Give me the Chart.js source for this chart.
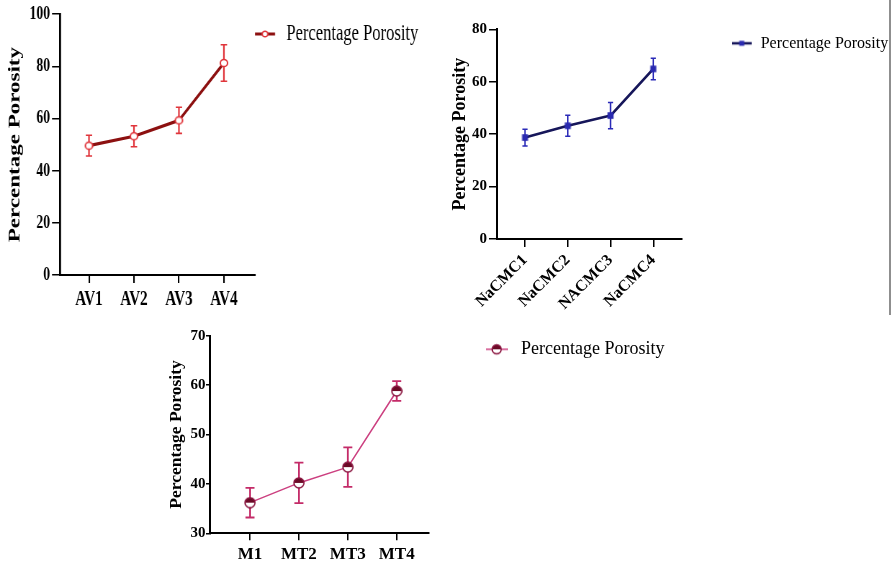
<!DOCTYPE html>
<html lang="en">
  <head>
    <meta charset="UTF-8" />
    <title>Percentage Porosity</title>
    <style>
      body { margin: 0; background: #fff; width: 895px; height: 564px; overflow: hidden; }
      canvas { position: absolute; transform-origin: 0 0; }
      #edge { position: absolute; left: 889px; top: 0; width: 2px; height: 315px; background: #8f8f8f; }
    </style>
  </head>
  <body>
    <canvas id="av"></canvas>
    <canvas id="na"></canvas>
    <canvas id="mt"></canvas>
    <div id="edge"></div>
    <script src="https://cdn.jsdelivr.net/npm/chart.js"></script>
    <script>
      const avLabels = ["AV1", "AV2", "AV3", "AV4"];
      const avValues = [49.6, 53.2, 59.3, 81.3];
      const avErrors = [4.0, 4.0, 5.0, 7.0];
      const avYTicks = [0, 20, 40, 60, 80, 100];

      const naLabels = ["NaCMC1", "NaCMC2", "NACMC3", "NaCMC4"];
      const naValues = [38.7, 43.2, 47.1, 64.9];
      const naErrors = [3.2, 4.0, 5.0, 4.1];
      const naYTicks = [0, 20, 40, 60, 80];

      const mtLabels = ["M1", "MT2", "MT3", "MT4"];
      const mtValues = [36.2, 40.2, 43.4, 58.8];
      const mtErrors = [3.0, 4.1, 4.0, 2.0];
      const mtYTicks = [30, 40, 50, 60, 70];

      const seriesName = "Percentage Porosity";
      const serif = '"Liberation Serif", "Times New Roman", serif';

      // the AV panel is squeezed sideways like in the picture
      const avSqueeze = 0.72;

      // small canvas drawn in screen units, stretched so it comes out right after the squeeze
      function icon(w, h, sx, draw) {
        const cv = document.createElement("canvas");
        cv.width = Math.round(w / sx);
        cv.height = h;
        const g = cv.getContext("2d");
        g.scale(cv.width / w, 1);
        draw(g);
        return cv;
      }

      function openCircle(g, x, y, r) {
        g.beginPath();
        g.arc(x, y, r, 0, Math.PI * 2);
        g.fillStyle = "#fff";
        g.fill();
        g.lineWidth = 1.5;
        g.strokeStyle = "#e0353b";
        g.stroke();
      }

      function halfCircle(g, x, y, r) {
        g.beginPath();
        g.arc(x, y, r, 0, Math.PI * 2);
        g.fillStyle = "#fff";
        g.fill();
        g.beginPath();
        g.arc(x, y, r, Math.PI, Math.PI * 2);
        g.closePath();
        g.fillStyle = "#6b0a26";
        g.fill();
        g.beginPath();
        g.arc(x, y, r, 0, Math.PI * 2);
        g.lineWidth = 1.4;
        g.strokeStyle = "#8a1640";
        g.stroke();
      }

      function keyLine(g, len, y, color, width) {
        g.beginPath();
        g.moveTo(0, y);
        g.lineTo(len, y);
        g.lineWidth = width;
        g.strokeStyle = color;
        g.stroke();
      }

      const avDot = icon(10, 10, avSqueeze, (g) => openCircle(g, 5, 5, 3.6));
      const naDot = icon(9, 9, 1, (g) => {
        g.fillStyle = "#2a2ab0";
        g.fillRect(1.5, 1.2, 6, 6.6);
      });
      const mtDot = icon(12, 12, 1, (g) => halfCircle(g, 6, 6, 5));

      const avKey = icon(23, 12, avSqueeze, (g) => {
        keyLine(g, 20, 6, "#8c1010", 3);
        openCircle(g, 10, 6, 2.8);
      });
      const naKey = icon(21, 12, 1, (g) => {
        keyLine(g, 20, 6, "#16165a", 2.5);
        g.fillStyle = "#2a2ab0";
        g.fillRect(7.5, 3.5, 5, 5);
      });
      const mtKey = icon(26, 14, 1, (g) => {
        keyLine(g, 22, 7, "#cc4080", 1.5);
        halfCircle(g, 10.7, 7, 4.5);
      });

      const errorBars = {
        id: "errorBars",
        beforeDatasetsDraw(chart, args, o) {
          const { ctx, scales: { x, y } } = chart;
          ctx.save();
          ctx.strokeStyle = o.color;
          chart.data.datasets[0].data.forEach((p, i) => {
            const px = x.getPixelForValue(p.x);
            const hi = y.getPixelForValue(p.y + o.errors[i]);
            const lo = y.getPixelForValue(p.y - o.errors[i]);
            ctx.lineWidth = o.width * o.k;
            ctx.beginPath();
            ctx.moveTo(px, hi);
            ctx.lineTo(px, lo);
            ctx.stroke();
            ctx.lineWidth = o.width;
            ctx.beginPath();
            ctx.moveTo(px - o.cap * o.k, hi);
            ctx.lineTo(px + o.cap * o.k, hi);
            ctx.moveTo(px - o.cap * o.k, lo);
            ctx.lineTo(px + o.cap * o.k, lo);
            ctx.stroke();
          });
          ctx.restore();
        },
      };

      const yTitle = {
        id: "yTitle",
        afterDraw(chart, args, o) {
          const { ctx, chartArea } = chart;
          ctx.save();
          ctx.translate(chartArea.left - o.offset, (chartArea.top + chartArea.bottom) / 2);
          ctx.rotate(-Math.PI / 2);
          ctx.font = `bold ${o.size}px ${serif}`;
          ctx.fillStyle = "#000";
          ctx.textAlign = "center";
          ctx.textBaseline = "middle";
          ctx.fillText(seriesName, 0, 0);
          ctx.restore();
        },
      };

      // the legend sits beside the plot, not inside it
      const legendSpot = {
        id: "legendSpot",
        afterLayout(chart, args, o) {
          const lg = chart.legend;
          const w = lg.width;
          const h = lg.height;
          lg.left = o.x;
          lg.right = o.x + w;
          lg.top = o.y - o.size / 2;
          lg.bottom = lg.top + h;
        },
      };

      function makeChart(c) {
        const el = document.getElementById(c.id);
        const k = 1 / c.sx;
        const w = Math.round(c.width * k);
        el.width = w;
        el.height = c.height;
        el.style.left = c.left + "px";
        el.style.top = c.top + "px";
        el.style.width = w + "px";
        el.style.height = c.height + "px";
        el.style.transform = `scaleX(${c.sx})`;

        return new Chart(el, {
          type: "line",
          data: {
            datasets: [
              {
                label: seriesName,
                data: c.values.map((v, i) => ({ x: i, y: v })),
                borderColor: c.line,
                borderWidth: c.lineWidth,
                borderJoinStyle: "round",
                pointStyle: c.point,
                pointRadius: 5,
                tension: 0,
                fill: false,
              },
            ],
          },
          options: {
            responsive: false,
            animation: false,
            events: [],
            layout: {
              padding: { left: 0, top: c.area.top, right: (c.width - c.area.right) * k, bottom: 0 },
            },
            scales: {
              x: {
                type: "linear",
                min: c.xMin,
                max: c.xMax,
                afterBuildTicks: (s) => {
                  s.ticks = c.labels.map((_, i) => ({ value: i }));
                },
                afterFit: (s) => {
                  s.height = c.height - c.area.bottom;
                },
                ticks: {
                  callback: (v) => c.labels[v],
                  autoSkip: false,
                  minRotation: c.rot,
                  maxRotation: c.rot,
                  padding: c.xPad,
                  color: "#000",
                  font: { family: serif, weight: "bold", size: c.xFont },
                },
                grid: { drawOnChartArea: false, tickLength: c.xTick, color: "#000", lineWidth: 1.5 * k },
                border: { color: "#000", width: 2 },
              },
              y: {
                min: c.yTicks[0],
                max: c.yTicks[c.yTicks.length - 1],
                afterBuildTicks: (s) => {
                  s.ticks = c.yTicks.map((v) => ({ value: v }));
                },
                afterFit: (s) => {
                  s.width = c.area.left * k;
                },
                ticks: {
                  padding: c.yPad * k,
                  color: "#000",
                  font: { family: serif, weight: "bold", size: c.yFont },
                },
                grid: { drawOnChartArea: false, tickLength: c.yTick * k, color: "#000", lineWidth: 1.5 },
                border: { color: "#000", width: 2 * k },
              },
            },
            plugins: {
              legend: {
                position: "chartArea",
                align: "start",
                labels: {
                  usePointStyle: true,
                  pointStyleWidth: c.key.width,
                  padding: 0,
                  color: "#000",
                  font: { family: serif, size: c.keyFont },
                  generateLabels: () => [
                    {
                      text: seriesName,
                      pointStyle: c.key,
                      lineWidth: 0,
                      fillStyle: "transparent",
                      strokeStyle: "transparent",
                      hidden: false,
                      datasetIndex: 0,
                    },
                  ],
                },
              },
              tooltip: { enabled: false },
              legendSpot: { x: c.keyX * k, y: c.keyY, size: c.keyFont },
              errorBars: { errors: c.errors, color: c.errColor, width: c.errWidth, cap: c.cap, k: k },
              yTitle: { size: c.titleSize, offset: (c.area.left - c.titleX) * k },
            },
          },
          plugins: [errorBars, yTitle, legendSpot],
        });
      }

      makeChart({
        id: "av", left: 0, top: 0, width: 440, height: 315, sx: avSqueeze,
        area: { left: 60, right: 255, top: 12.7, bottom: 275 },
        xMin: -0.644, xMax: 3.69,
        labels: avLabels, values: avValues, errors: avErrors, yTicks: avYTicks,
        xFont: 21, yFont: 19, xTick: 8, yTick: 8, xPad: 4, yPad: 2, rot: 0,
        key: avKey, keyFont: 23, keyX: 255, keyY: 34,
        titleSize: 23, titleX: 15,
        line: "#8c1010", lineWidth: 3.2, point: avDot,
        errColor: "#e0353b", errWidth: 1.6, cap: 3.2,
      });

      makeChart({
        id: "na", left: 440, top: 0, width: 455, height: 320, sx: 1,
        area: { left: 57, right: 242, top: 29.3, bottom: 239 },
        xMin: -0.655, xMax: 3.671,
        labels: naLabels, values: naValues, errors: naErrors, yTicks: naYTicks,
        xFont: 16, yFont: 15, xTick: 8, yTick: 8, xPad: 4, yPad: 2, rot: 45,
        key: naKey, keyFont: 16, keyX: 291.7, keyY: 43.3,
        titleSize: 18, titleX: 20,
        line: "#16165a", lineWidth: 2.6, point: naDot,
        errColor: "#2a2ab8", errWidth: 1.5, cap: 2.6,
      });

      makeChart({
        id: "mt", left: 150, top: 320, width: 560, height: 244, sx: 1,
        area: { left: 60, right: 279, top: 15.7, bottom: 213.3 },
        xMin: -0.818, xMax: 3.66,
        labels: mtLabels, values: mtValues, errors: mtErrors, yTicks: mtYTicks,
        xFont: 17, yFont: 15, xTick: 7, yTick: 4, xPad: 4, yPad: 0.5, rot: 0,
        key: mtKey, keyFont: 18, keyX: 336, keyY: 29.3,
        titleSize: 17.5, titleX: 26.7,
        line: "#cc4080", lineWidth: 1.5, point: mtDot,
        errColor: "#c42b68", errWidth: 1.8, cap: 4.5,
      });
    </script>
  </body>
</html>
